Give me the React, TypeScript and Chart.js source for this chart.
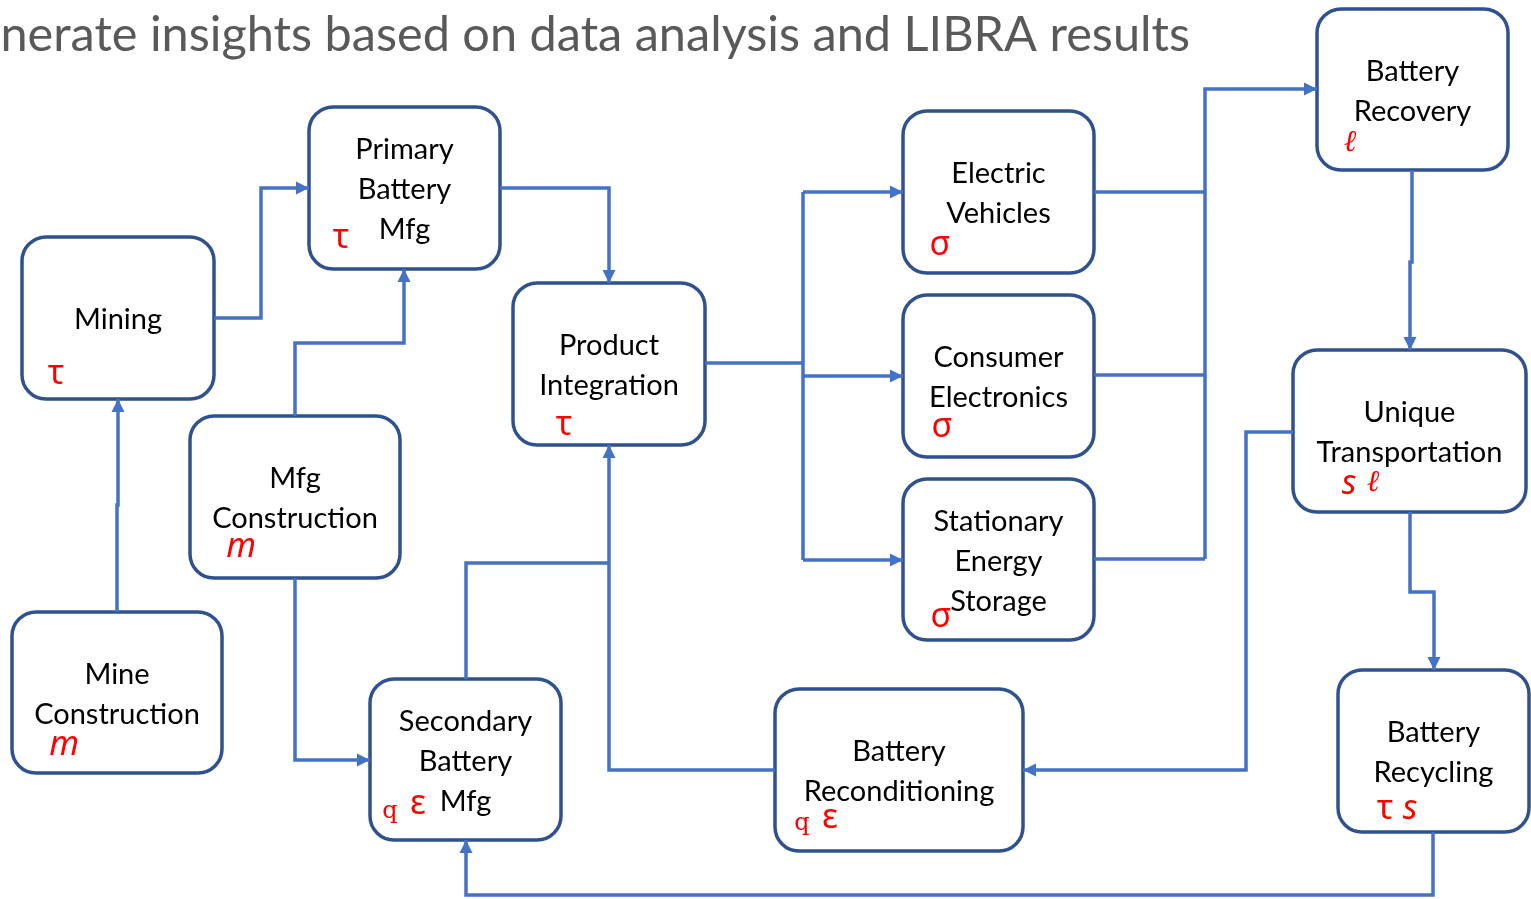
import React, { useEffect, useRef } from "react";
import { Chart, registerables } from "chart.js";

Chart.register(...registerables);

// ---- data ----
const titleText = "Generate insights based on data analysis and LIBRA results";
const titleVisible = "nerate insights based on data analysis and LIBRA results";

const nodeNames = [
  "Mining",
  "Primary Battery Mfg",
  "Mfg Construction",
  "Mine Construction",
  "Product Integration",
  "Secondary Battery Mfg",
  "Electric Vehicles",
  "Consumer Electronics",
  "Stationary Energy Storage",
  "Battery Reconditioning",
  "Battery Recovery",
  "Unique Transportation",
  "Battery Recycling",
];
const nodeLines = [
  ["Mining"],
  ["Primary", "Battery", "Mfg"],
  ["Mfg", "Construction"],
  ["Mine", "Construction"],
  ["Product", "Integration"],
  ["Secondary", "Battery", "Mfg"],
  ["Electric", "Vehicles"],
  ["Consumer", "Electronics"],
  ["Stationary", "Energy", "Storage"],
  ["Battery", "Reconditioning"],
  ["Battery", "Recovery"],
  ["Unique", "Transportation"],
  ["Battery", "Recycling"],
];
const nodeLeft = [22, 309, 190, 12, 513, 370, 903, 903, 903, 775, 1317, 1293, 1338];
const nodeRight = [214, 500, 400, 222, 705, 561, 1094, 1094, 1094, 1023, 1508, 1526, 1529];
const nodeTop = [237, 107, 416, 612, 283, 679, 111, 295, 479, 689, 9, 350, 670];
const nodeBottom = [399, 269, 578, 773, 445, 840, 273, 457, 640, 851, 170, 512, 832];

// symbols: [text, x, y, kind]
const nodeSymbols: [string, number, number, string][][] = [
  [["τ", 56, 374, "greek"]],
  [["τ", 341, 238, "greek"]],
  [["m", 241, 547, "italic"]],
  [["m", 64, 745, "italic"]],
  [["τ", 564, 425, "greek"]],
  [["q", 390, 812, "small"], ["ε", 418, 804, "greek"]],
  [["σ", 940, 245, "greek"]],
  [["σ", 942, 427, "greek"]],
  [["σ", 941, 617, "greek"]],
  [["q", 802, 824, "small"], ["ε", 830, 818, "greek"]],
  [["ℓ", 1350, 143, "ell"]],
  [["s", 1349, 484, "italic"], ["ℓ", 1373, 483, "ell"]],
  [["τ", 1385, 809, "greek"], ["s", 1410, 809, "italic"]],
];

// connectors: polylines and whether they end with an arrow
const connectorPaths: number[][][] = [
  [[214, 318], [261, 318], [261, 188], [309, 188]],
  [[295, 416], [295, 343], [404, 343], [404, 269]],
  [[117, 612], [117, 505], [118, 505], [118, 399]],
  [[500, 188], [609, 188], [609, 283]],
  [[295, 578], [295, 760], [370, 760]],
  [[705, 363], [803, 363]],
  [[803, 192], [803, 560]],
  [[803, 192], [903, 192]],
  [[803, 376], [903, 376]],
  [[803, 560], [903, 560]],
  [[1094, 192], [1205, 192]],
  [[1094, 375], [1205, 375]],
  [[1094, 559], [1205, 559]],
  [[1205, 559], [1205, 89], [1317, 89]],
  [[1412, 170], [1412, 262], [1410, 262], [1410, 350]],
  [[1293, 432], [1246, 432], [1246, 770], [1023, 770]],
  [[1410, 512], [1410, 592], [1434, 592], [1434, 670]],
  [[1433, 832], [1433, 895], [466, 895], [466, 840]],
  [[466, 679], [466, 563], [609, 563]],
  [[775, 770], [609, 770], [609, 445]],
];
const connectorArrow = [
  true, true, true, true, true, false, false, true, true, true,
  false, false, false, true, true, true, true, true, false, true,
];

const LINE_COLOR = "#4472C4";
const BOX_COLOR = "#2F528F";

function roundRect(ctx: CanvasRenderingContext2D, x: number, y: number, w: number, h: number, r: number) {
  ctx.beginPath();
  ctx.moveTo(x + r, y);
  ctx.lineTo(x + w - r, y);
  ctx.arcTo(x + w, y, x + w, y + r, r);
  ctx.lineTo(x + w, y + h - r);
  ctx.arcTo(x + w, y + h, x + w - r, y + h, r);
  ctx.lineTo(x + r, y + h);
  ctx.arcTo(x, y + h, x, y + h - r, r);
  ctx.lineTo(x, y + r);
  ctx.arcTo(x, y, x + r, y, r);
  ctx.closePath();
}

const diagramPlugin = {
  id: "diagram",
  beforeDatasetsDraw(chart: any) {
    const ctx: CanvasRenderingContext2D = chart.ctx;
    const xs = chart.scales.x;
    const ys = chart.scales.y;
    const px = (v: number) => xs.getPixelForValue(v);
    const py = (v: number) => ys.getPixelForValue(v);
    ctx.save();
    // title
    ctx.fillStyle = "#595959";
    const base = 46;
    ctx.font = `${base}px Lato`;
    const w = ctx.measureText(titleVisible).width;
    const size = (base * (px(1190) - px(0))) / w;
    ctx.font = `${size}px Lato`;
    ctx.textAlign = "right";
    ctx.textBaseline = "alphabetic";
    ctx.fillText(titleText, px(1190), py(51));

    // boxes
    for (let i = 0; i < nodeNames.length; i++) {
      const x0 = px(nodeLeft[i]);
      const x1 = px(nodeRight[i]);
      const y0 = py(nodeTop[i]);
      const y1 = py(nodeBottom[i]);
      roundRect(ctx, x0, y0, x1 - x0, y1 - y0, 24);
      ctx.fillStyle = "#ffffff";
      ctx.fill();
      ctx.lineWidth = 3.5;
      ctx.strokeStyle = BOX_COLOR;
      ctx.stroke();

      const cx = (x0 + x1) / 2;
      const cy = (y0 + y1) / 2;
      const lines = nodeLines[i];
      ctx.fillStyle = "#000000";
      ctx.font = "29px Lato";
      ctx.textAlign = "center";
      ctx.textBaseline = "alphabetic";
      lines.forEach((ln, k) => {
        const ly = cy + (k - (lines.length - 1) / 2) * 40 + 11;
        ctx.fillText(ln, cx, ly);
      });

      for (const [s, sx, sy, kind] of nodeSymbols[i]) {
        ctx.fillStyle = "#FF0000";
        if (kind === "greek") ctx.font = "34px 'Noto Sans'";
        else if (kind === "italic") ctx.font = "italic 34px 'Noto Sans'";
        else if (kind === "ell") ctx.font = "italic 30px 'DejaVu Serif'";
        else ctx.font = "24px 'DejaVu Serif'";
        ctx.textAlign = "center";
        ctx.textBaseline = "middle";
        ctx.fillText(s, px(sx), py(sy));
      }
    }
    ctx.restore();
  },
  afterDatasetsDraw(chart: any) {
    const ctx: CanvasRenderingContext2D = chart.ctx;
    const xs = chart.scales.x;
    const ys = chart.scales.y;
    ctx.save();
    ctx.fillStyle = LINE_COLOR;
    connectorPaths.forEach((path, i) => {
      if (!connectorArrow[i]) return;
      const a = path[path.length - 2];
      const b = path[path.length - 1];
      const ax = xs.getPixelForValue(a[0]);
      const ay = ys.getPixelForValue(a[1]);
      const bx = xs.getPixelForValue(b[0]);
      const by = ys.getPixelForValue(b[1]);
      const ang = Math.atan2(by - ay, bx - ax);
      const L = 13;
      const H = 6.5;
      ctx.beginPath();
      ctx.moveTo(bx, by);
      ctx.lineTo(bx - L * Math.cos(ang) + H * Math.sin(ang), by - L * Math.sin(ang) - H * Math.cos(ang));
      ctx.lineTo(bx - L * Math.cos(ang) - H * Math.sin(ang), by - L * Math.sin(ang) + H * Math.cos(ang));
      ctx.closePath();
      ctx.fill();
    });
    ctx.restore();
  },
};

export default function App() {
  const ref = useRef<HTMLCanvasElement | null>(null);
  useEffect(() => {
    document.body.style.margin = "0";
    const canvas = ref.current;
    if (!canvas) return;
    const datasets = connectorPaths.map((path) => ({
      data: path.map(([x, y]) => ({ x, y })),
      showLine: true,
      borderColor: LINE_COLOR,
      borderWidth: 3.5,
      pointRadius: 0,
      fill: false,
      tension: 0,
      borderJoinStyle: "miter" as const,
    }));
    const chart = new Chart(canvas, {
      type: "scatter",
      data: { datasets },
      options: {
        animation: false,
        responsive: false,
        maintainAspectRatio: false,
        layout: { padding: 0 },
        plugins: { legend: { display: false }, tooltip: { enabled: false }, title: { display: false } },
        scales: {
          x: { type: "linear", min: 0, max: 1531, display: false },
          y: { type: "linear", min: 0, max: 899, reverse: true, display: false },
        },
      },
      plugins: [diagramPlugin],
    });
    return () => chart.destroy();
  }, []);
  return (
    <div style={{ width: 1531, height: 899, background: "#fff" }}>
      <canvas ref={ref} width={1531} height={899} style={{ display: "block" }} />
    </div>
  );
}
